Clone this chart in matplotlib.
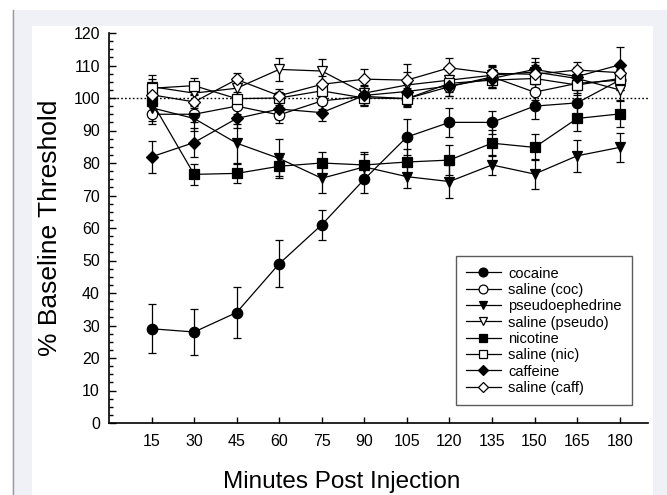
import matplotlib
matplotlib.use("Agg")
import matplotlib.pyplot as plt
from matplotlib.patches import Rectangle
from matplotlib.lines import Line2D
from matplotlib.ticker import MultipleLocator, FixedLocator

plt.rcParams['font.family'] = ['Liberation Sans', 'DejaVu Sans']

minutes = [15, 30, 45, 60, 75, 90, 105, 120, 135, 150, 165, 180]

cocaine = [29, 28, 34, 49, 61, 75, 88, 92.5, 92.5, 97.5, 98.5, 105.5]
cocaine_sem = [7.5, 7.2, 7.7, 7.3, 4.6, 4.3, 5.4, 4.4, 3.5, 4.0, 4.0, 3.0]

saline_coc = [95, 95, 97.5, 94.8, 99.1, 100.5, 99.8, 103.5, 106.5, 101.8, 104.5, 105.5]
saline_coc_sem = [3, 2.5, 2.5, 2.5, 2.5, 2.5, 2.5, 3, 3, 2.5, 3, 3]

pseudo = [97, 93.7, 86.1, 81.4, 75.3, 78.8, 75.8, 74.3, 79.4, 76.6, 82.2, 84.8]
pseudo_sem = [4, 4, 6, 6, 4.5, 4.5, 3.5, 5, 3, 4.5, 5, 4.5]

saline_pseudo = [103.5, 101.5, 103, 108.8, 108.3, 101.5, 104, 105.5, 107, 108, 106, 102.5]
saline_pseudo_sem = [3.5, 2.5, 3, 3.6, 3.6, 2.5, 6.5, 3, 3, 3, 3, 3]

nicotine = [99, 76.5, 76.8, 79, 80, 79.4, 80.3, 80.9, 86.1, 84.8, 93.7, 95.1]
nicotine_sem = [3, 3.3, 2.9, 3, 3.5, 3.5, 4, 4.5, 4, 4, 4, 4]

saline_nic = [103, 103.8, 99.8, 100, 102.2, 100, 99.8, 104.5, 105.5, 106, 104, 106]
saline_nic_sem = [3, 2.5, 2, 2, 2, 2.5, 2, 2.5, 2.5, 3, 3, 3]

caffeine = [81.9, 86.3, 93.7, 96.6, 95.5, 100.8, 102, 103.7, 106, 108.8, 106.6, 110.2]
caffeine_sem = [5, 4.5, 3, 3, 2.5, 3, 2.5, 3, 3, 3.5, 3, 5.6]

saline_caff = [101, 98.8, 105.7, 100.7, 104.2, 105.8, 105.5, 109.3, 107.6, 107.3, 108.6, 107.8]
saline_caff_sem = [3.5, 2, 2, 2, 2.5, 3, 2.5, 3, 2.5, 3, 2.5, 3]

series = [
    ("cocaine", cocaine, cocaine_sem, "o", "black"),
    ("saline (coc)", saline_coc, saline_coc_sem, "o", "white"),
    ("pseudoephedrine", pseudo, pseudo_sem, "v", "black"),
    ("saline (pseudo)", saline_pseudo, saline_pseudo_sem, "v", "white"),
    ("nicotine", nicotine, nicotine_sem, "s", "black"),
    ("saline (nic)", saline_nic, saline_nic_sem, "s", "white"),
    ("caffeine", caffeine, caffeine_sem, "D", "black"),
    ("saline (caff)", saline_caff, saline_caff_sem, "D", "white"),
]
marker_sizes = {"o": 7.5, "v": 7.5, "s": 6.5, "D": 6.5}

W, H = 667, 495
fig = plt.figure(figsize=(W / 100, H / 100), dpi=100, facecolor="white")

# panel background with a left rule and a white inner sheet
fig.patches.append(Rectangle((12 / W, 0), (W - 12) / W, (H - 10) / H,
                             transform=fig.transFigure, facecolor="#f0f1f6",
                             edgecolor="none", zorder=-20))
fig.lines.append(Line2D([12.5 / W, 12.5 / W], [0, (H - 10) / H],
                        transform=fig.transFigure, color="#9a9a9a", lw=1.0, zorder=-15))
fig.patches.append(Rectangle((32 / W, 0), (653 - 32) / W, (H - 26) / H,
                             transform=fig.transFigure, facecolor="white",
                             edgecolor="none", zorder=-10))

ax = fig.add_axes([109 / W, (H - 423) / H, (648 - 109) / W, (423 - 33) / H])
ax.set_facecolor("none")

handles = []
for label, vals, sem, mk, fc in series:
    ax.errorbar(minutes, vals, yerr=sem, fmt="-", marker=mk, color="black",
                mfc=fc, mec="black", ms=marker_sizes[mk], mew=0.9, lw=0.9,
                elinewidth=0.9, ecolor="black", capsize=3.2, capthick=0.9)
    handles.append(Line2D([], [], color="black", lw=0.9, marker=mk, mfc=fc,
                          mec="black", mew=0.9, ms=marker_sizes[mk] * 0.85,
                          label=label))

ax.axhline(100, color="black", lw=1.0, ls=(0, (1.2, 1.6)), zorder=0.5)

ax.set_xlim(0, 190)
ax.set_ylim(0, 120)
ax.xaxis.set_major_locator(FixedLocator(minutes))
ax.yaxis.set_major_locator(MultipleLocator(10))
ax.yaxis.set_minor_locator(MultipleLocator(2.5))

for s in ("top", "right"):
    ax.spines[s].set_visible(False)
for s in ("left", "bottom"):
    ax.spines[s].set_linewidth(1.2)

ax.tick_params(axis="both", which="both", direction="in", width=1.0, labelsize=11.5)
ax.tick_params(axis="y", which="major", length=5, pad=6.5)
ax.tick_params(axis="y", which="minor", length=3)
ax.tick_params(axis="x", which="major", length=4, pad=8)

# x title centred on the white sheet
fig.text(342 / W, (H - 482) / H, "Minutes Post Injection", fontsize=17.5,
         ha="center", va="center")
ax.set_ylabel("% Baseline Threshold", fontsize=19, labelpad=8)

leg = ax.legend(handles=handles, loc="lower right", bbox_to_anchor=(0.97, 0.046),
                borderaxespad=0, fontsize=10.5, frameon=True, fancybox=False,
                handlelength=2.4, handletextpad=0.5, labelspacing=0.16,
                borderpad=0.7)
leg.get_frame().set_edgecolor("#333333")
leg.get_frame().set_linewidth(1.0)

fig.savefig("out.png", dpi=100, facecolor="white")
